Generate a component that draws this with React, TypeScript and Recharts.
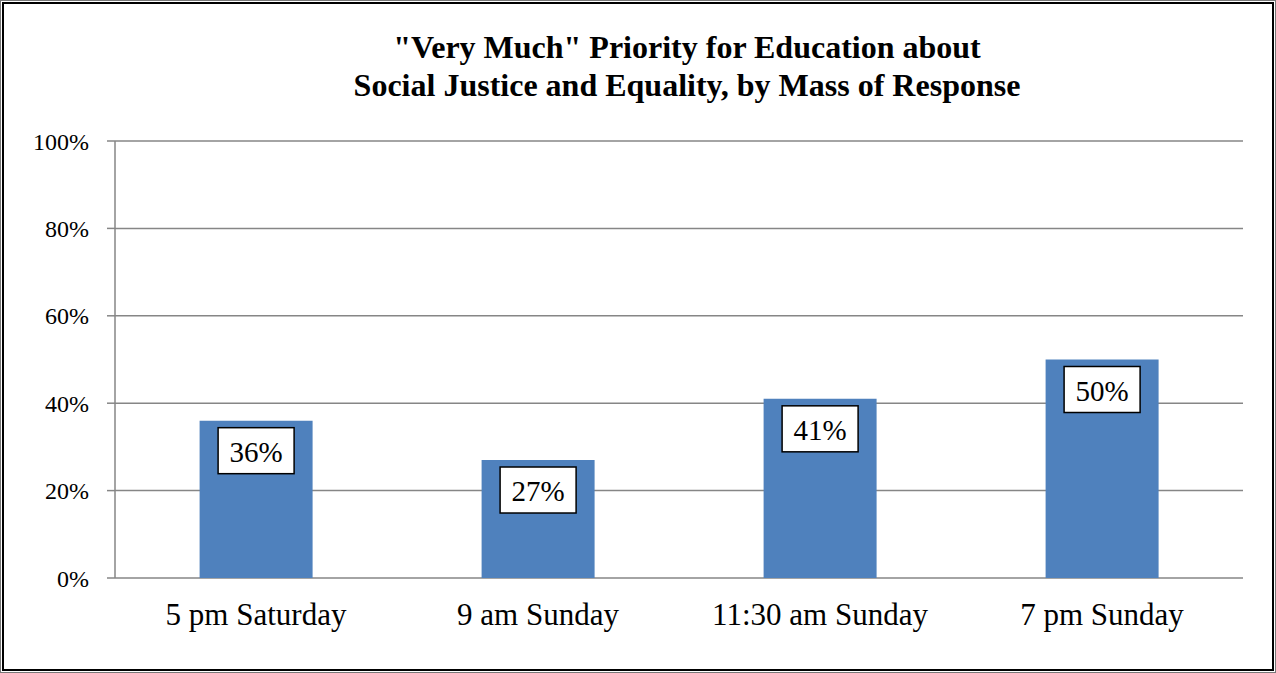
import { BarChart, Bar, XAxis, YAxis, CartesianGrid, LabelList } from "recharts";

const masses = ["5 pm Saturday", "9 am Sunday", "11:30 am Sunday", "7 pm Sunday"];
const veryMuch = [36, 27, 41, 50];
const yTicks = [0, 20, 40, 60, 80, 100];
const boundTicks = [0, 1, 2, 3, 4];

const data = masses.map((mass, i) => ({ mass, value: veryMuch[i] }));

const SERIF = '"Liberation Serif", "Times New Roman", serif';
const GRAY = "#868686";

// boxed value label just under the top of each bar
function BoxLabel(props: any) {
  const { x, y, width, value } = props;
  const cx = x + width / 2;
  const w = 76;
  const h = 46;
  const top = y + 7;
  return (
    <g>
      <rect x={cx - w / 2} y={top} width={w} height={h} fill="#fff" stroke="#000" strokeWidth={1.5} />
      <text
        x={cx}
        y={top + h / 2 + 1}
        textAnchor="middle"
        dominantBaseline="central"
        fontFamily={SERIF}
        fontSize={29}
        fill="#000"
      >
        {`${value}%`}
      </text>
    </g>
  );
}

export default function App() {
  return (
    <div style={{ position: "absolute", left: 0, top: 0, width: 1276, height: 673, background: "#fff" }}>
      <BarChart
        width={1276}
        height={673}
        data={data}
        margin={{ top: 141, right: 33, bottom: 0, left: 0 }}
        barCategoryGap="30%"
      >
        <CartesianGrid vertical={false} stroke={GRAY} strokeWidth={1.5} />
        {/* tick marks between categories, like Excel */}
        <XAxis
          xAxisId="bounds"
          type="number"
          domain={[0, 4]}
          ticks={boundTicks}
          allowDataOverflow
          height={0}
          tick={false}
          tickSize={8}
          stroke={GRAY}
          strokeWidth={1.5}
        />
        <XAxis
          dataKey="mass"
          height={95}
          axisLine={false}
          tickLine={false}
          tickSize={0}
          tickMargin={25}
          interval={0}
          tick={{ fill: "#000", fontSize: 31, fontFamily: SERIF }}
        />
        <YAxis
          width={115}
          domain={[0, 100]}
          ticks={yTicks}
          tickFormatter={(v) => `${v}%`}
          tickSize={8}
          tickMargin={18}
          stroke={GRAY}
          strokeWidth={1.5}
          tick={{ fill: "#000", fontSize: 24, fontFamily: SERIF }}
        />
        <Bar dataKey="value" fill="#4F81BD" isAnimationActive={false}>
          <LabelList dataKey="value" content={BoxLabel} />
        </Bar>
      </BarChart>
      <div
        style={{
          position: "absolute",
          left: 287,
          top: 28,
          width: 800,
          textAlign: "center",
          fontFamily: SERIF,
          fontWeight: "bold",
          fontSize: 32,
          lineHeight: "38px",
          color: "#000",
        }}
      >
        "Very Much" Priority for Education about
        <br />
        Social Justice and Equality, by Mass of Response
      </div>
      <div
        style={{
          position: "absolute",
          inset: 0,
          border: "1px solid #777",
          pointerEvents: "none",
        }}
      />
      <div
        style={{
          position: "absolute",
          inset: 2,
          border: "2px solid #000",
          pointerEvents: "none",
        }}
      />
    </div>
  );
}
